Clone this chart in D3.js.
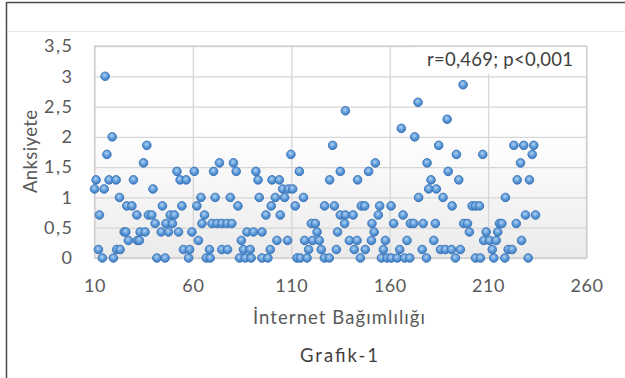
<!DOCTYPE html>
<html><head><meta charset="utf-8">
<script src="https://cdn.jsdelivr.net/npm/d3@7"></script>
<style>html,body{margin:0;padding:0;background:#fff;}svg{display:block;}</style>
</head><body>
<svg id="chart" width="625" height="378"></svg>
<script>
// ---- data ----
const internetScores = [10.0,10.8,12.5,12.0,14.0,14.9,15.4,16.3,19.0,17.4,21.0,19.6,21.3,23.0,22.7,25.1,25.9,26.4,29.0,27.2,29.8,31.5,31.8,32.8,33.2,35.7,36.6,34.9,37.4,39.1,39.7,40.8,41.7,45.9,44.5,43.9,46.3,49.6,48.5,50.6,47.6,51.9,52.7,53.5,56.6,54.4,55.2,57.8,58.3,
59.5,60.7,62.0,62.8,64.1,65.9,64.6,66.8,68.8,68.4,69.7,72.2,74.7,77.3,79.8,70.5,73.5,71.3,74.7,77.6,79.0,80.6,82.0,82.9,84.6,83.7,86.6,89.6,85.7,89.1,87.5,90.8,95.1,92.0,93.1,93.7,97.1,95.1,98.1,99.3,100.2,99.8,101.9,102.7,
103.9,105.6,108.6,110.7,106.6,116.2,109.8,114.1,112.0,104.4,108.1,112.9,114.6,118.0,116.8,120.8,124.2,118.8,125.2,120.2,122.2,123.1,126.8,129.3,126.9,131.9,129.5,131.0,134.9,132.9,133.5,134.9,137.5,141.4,137.1,137.5,139.5,143.4,142.0,145.1,143.7,145.6,147.3,147.6,149.3,151.0,152.1,150.7,152.7,154.2,154.9,156.8,157.8,155.8,158.7,
160.7,163.8,167.6,170.2,160.7,162.0,165.1,165.9,166.8,168.8,170.5,172.2,172.7,174.4,174.7,176.5,177.0,178.7,179.0,179.8,183.7,181.0,182.4,183.2,184.9,185.8,188.3,191.4,195.9,187.1,189.2,189.7,191.7,193.4,193.9,195.1,197.3,197.6,199.5,200.5,203.6,206.1,201.9,203.6,205.6,
207.3,207.8,210.7,214.1,209.0,214.9,212.1,212.9,215.8,217.0,218.5,218.8,220.2,222.2,223.1,228.1,233.2,232.4,226.5,224.8,231.0,229.0,234.1,224.3,227.0,230.4];
const anxietyScores = [1.14,1.29,0.71,0.14,0,1.14,3.0,1.71,2.0,1.29,1.29,0,0.14,0.14,1.0,0.43,0.43,0.86,0.86,0.29,1.29,0.71,0.29,0.29,0.43,0.43,1.86,1.57,0.71,0.71,1.14,0.57,0,0,0.86,0.43,0.57,0.57,0.71,0.71,0.43,1.43,0.43,1.29,1.29,0.86,0.14,0,0.14,
0.43,1.43,0.86,0.29,1.0,0.71,0.57,0,0,0.14,0.57,0.57,0.57,0.57,0.57,1.43,1.57,1.0,0.14,0.14,1.0,1.57,1.43,0.86,0.29,0,0,0,0.14,0.14,0.43,0.43,0.43,1.43,1.29,1.0,0.71,0,0,0.14,1.29,0.86,1.0,0.29,
1.29,1.14,1.14,1.14,1.0,1.0,1.71,1.43,0.86,0.71,0.29,0,0,0,0.29,0.29,0.29,0.14,0.14,0.57,0.57,0.43,0,0,0.86,0.86,1.29,1.86,1.43,0.14,0.43,0.71,0.71,0.71,0.57,2.43,0.29,0.29,0.14,0,1.29,0.86,0.86,0.14,1.43,0.57,0.43,0.29,1.57,0.71,0.86,0.14,0.29,0,0,
0,0,0,0,0.86,0.57,0.14,2.14,0.71,0.29,0.57,0.57,2.0,2.57,1.0,0.14,0.57,0,1.57,1.14,1.14,1.29,0.29,0.57,1.86,0.14,0.14,0.14,0.14,1.0,2.29,1.43,0.86,0,1.71,1.29,2.86,0.57,0.57,0.43,0,0,0.86,0.86,0.86,
1.71,0.29,0.29,0.29,0.43,0.43,0.14,0,0.57,0.57,0,1.0,0.14,0.14,1.86,1.86,1.86,1.71,1.57,1.29,1.29,0.71,0.71,0.57,0.29,0];
const xTicks = [10, 60, 110, 160, 210, 260];
const yTicks = [0, 0.5, 1, 1.5, 2, 2.5, 3, 3.5];
const xTitle = "İnternet Bağımlılığı";
const yTitle = "Anksiyete";
const chartCaption = "Grafik-1";
const statLabel = "r=0,469; p<0,001";

// ---- layout ----
const W = 625, H = 378;
const plot = {left: 94.5, right: 586.5, top: 46, bottom: 258};
const FONT = "Lato, 'Open Sans', sans-serif";
const fmt = v => String(v).replace(".", ",");

const svg = d3.select("#chart");
const defs = svg.append("defs");
const bg = defs.append("linearGradient").attr("id","plotbg").attr("x1",0).attr("y1",0).attr("x2",0).attr("y2",1);
bg.append("stop").attr("offset","0%").attr("stop-color","#ffffff");
bg.append("stop").attr("offset","40%").attr("stop-color","#ffffff");
bg.append("stop").attr("offset","100%").attr("stop-color","#ebebeb");
const mg = defs.append("radialGradient").attr("id","marker").attr("cx","45%").attr("cy","38%").attr("r","60%");
mg.append("stop").attr("offset","0%").attr("stop-color","#b4d2f2");
mg.append("stop").attr("offset","55%").attr("stop-color","#5f9ddb");
mg.append("stop").attr("offset","100%").attr("stop-color","#3f7fc4");

svg.append("rect").attr("width",W).attr("height",H).attr("fill","#fff");
// outer frame
svg.append("line").attr("x1",6.5).attr("x2",W).attr("y1",2.5).attr("y2",2.5).attr("stroke","#4a4a4a").attr("stroke-width",1.5);
svg.append("line").attr("x1",6.5).attr("x2",6.5).attr("y1",2).attr("y2",H).attr("stroke","#4a4a4a").attr("stroke-width",1.5);
svg.append("line").attr("x1",7).attr("x2",W).attr("y1",31.5).attr("y2",31.5).attr("stroke","#e6e6e6").attr("stroke-width",1);

const x = d3.scaleLinear().domain([10, 260]).range([plot.left, plot.right]);
const y = d3.scaleLinear().domain([0, 3.5]).range([plot.bottom, plot.top]);

svg.append("rect").attr("x",plot.left).attr("y",plot.top)
  .attr("width",plot.right-plot.left).attr("height",plot.bottom-plot.top)
  .attr("fill","url(#plotbg)");

// gridlines via axes
svg.append("g").attr("transform",`translate(0,${plot.bottom})`)
  .call(d3.axisBottom(x).tickValues(xTicks).tickSize(-(plot.bottom-plot.top)).tickFormat(""))
  .call(g => g.select(".domain").remove())
  .call(g => g.selectAll("line").attr("stroke","#d6d6d6").attr("stroke-width",1.3));
svg.append("g").attr("transform",`translate(${plot.left},0)`)
  .call(d3.axisLeft(y).tickValues(yTicks).tickSize(-(plot.right-plot.left)).tickFormat(""))
  .call(g => g.select(".domain").remove())
  .call(g => g.selectAll("line").attr("stroke","#d6d6d6").attr("stroke-width",1.3));
svg.append("rect").attr("x",plot.left).attr("y",plot.top)
  .attr("width",plot.right-plot.left).attr("height",plot.bottom-plot.top)
  .attr("fill","none").attr("stroke","#d0d0d0").attr("stroke-width",1.3);

// tick labels
svg.append("g").attr("transform",`translate(0,${plot.bottom})`)
  .call(d3.axisBottom(x).tickValues(xTicks).tickSize(0).tickPadding(21).tickFormat(fmt))
  .call(g => g.select(".domain").remove())
  .call(g => g.selectAll("text").attr("font-family",FONT).attr("font-size",18).attr("letter-spacing",0.6).attr("fill","#595959"));
svg.append("g").attr("transform",`translate(${plot.left},0)`)
  .call(d3.axisLeft(y).tickValues(yTicks).tickSize(0).tickPadding(21).tickFormat(fmt))
  .call(g => g.select(".domain").remove())
  .call(g => g.selectAll("text").attr("font-family",FONT).attr("font-size",18).attr("letter-spacing",1.5).attr("fill","#595959"));

// stat label box
svg.append("rect").attr("x",414).attr("y",plot.top+1).attr("width",plot.right-414-1).attr("height",27).attr("fill","#fff");
svg.append("text").attr("x",427).attr("y",66).attr("font-family",FONT).attr("font-size",18.5)
  .attr("textLength",146).attr("lengthAdjust","spacing").attr("fill","#404040").text(statLabel);

// points
const pts = internetScores.map((v,i) => ({x:v, y:anxietyScores[i]}));
svg.append("g").selectAll("circle").data(pts).join("circle")
  .attr("cx", d => x(d.x)).attr("cy", d => y(d.y)).attr("r", 4.3)
  .attr("fill","url(#marker)").attr("stroke","#3a72b4").attr("stroke-width",0.9);

// titles
svg.append("text").attr("x",253).attr("y",324)
  .attr("font-family",FONT).attr("font-size",18.5).attr("textLength",172).attr("lengthAdjust","spacing")
  .attr("fill","#595959").text(xTitle);
svg.append("text").attr("transform",`translate(37,193) rotate(-90)`)
  .attr("font-family",FONT).attr("font-size",18.5).attr("textLength",83).attr("lengthAdjust","spacing")
  .attr("fill","#595959").text(yTitle);
svg.append("text").attr("x",300).attr("y",362)
  .attr("font-family",FONT).attr("font-size",18.5).attr("textLength",78).attr("lengthAdjust","spacing")
  .attr("fill","#404040").text(chartCaption);
</script>
</body></html>
